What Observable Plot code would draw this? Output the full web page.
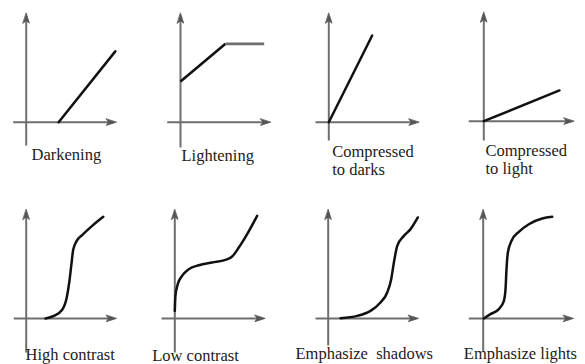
<!DOCTYPE html>
<html>
<head>
<meta charset="utf-8">
<script src="https://cdn.jsdelivr.net/npm/d3@7"></script>
<script src="https://cdn.jsdelivr.net/npm/@observablehq/plot@0.6"></script>
<style>
  html, body { margin: 0; padding: 0; background: #fff; }
  #chart { position: relative; width: 585px; height: 364px; overflow: hidden; background: #fff; }
  #chart svg { position: absolute; }
</style>
</head>
<body>
<div id="chart"></div>
<script>
// Panel titles (curve names)
const labels = [
  "Darkening", "Lightening", "Compressed\nto darks", "Compressed\nto light",
  "High contrast", "Low contrast", "Emphasize  shadows", "Emphasize lights"
];

// Tone curves: [input, output], 0 = origin, 1 = arrow tip of each axis
const darkening = [[0.36, 0], [0.99, 0.65]];
const lightening = [[0, 0.373], [0.5, 0.719], [0.93, 0.719]];
const compressedDarks = [[0, 0], [0.482, 0.795]];
const compressedLight = [[0, 0], [0.841, 0.282]];
const highContrast = [[0.214, 0], [0.307, 0.024], [0.4, 0.08], [0.45, 0.19], [0.478, 0.33], [0.5, 0.48],
  [0.522, 0.63], [0.56, 0.71], [0.622, 0.765], [0.733, 0.85], [0.856, 0.933]];
const lowContrast = [[0, 0.07], [0.007, 0.208], [0.033, 0.315], [0.081, 0.391], [0.156, 0.453], [0.267, 0.489],
  [0.415, 0.514], [0.563, 0.538], [0.637, 0.569], [0.711, 0.651], [0.804, 0.774], [0.915, 0.942]];
const emphShadows = [[0.137, 0.003], [0.322, 0.024], [0.47, 0.07], [0.581, 0.147], [0.656, 0.239], [0.7, 0.361],
  [0.73, 0.514], [0.767, 0.667], [0.841, 0.758], [0.915, 0.82], [0.996, 0.927]];
const emphLights = [[0.007, 0], [0.081, 0.04], [0.174, 0.086], [0.23, 0.162], [0.248, 0.269], [0.259, 0.453],
  [0.274, 0.606], [0.315, 0.713], [0.396, 0.795], [0.507, 0.865], [0.656, 0.917], [0.767, 0.933]];

const curves = [darkening, lightening, compressedDarks, compressedLight,
  highContrast, lowContrast, emphShadows, emphLights];
const smooth = [false, false, false, false, true, true, true, true];

// ---- layout (pixels) ----
const panelLeft = [0, 145, 290, 435];
const panelTop = [0, 182];
const panelW = [145, 145, 145, 150];
const panelH = 182;
const unitX = 90, unitY = 109;
// absolute origin of each panel's axes
const originX = [25.7, 180, 328.3, 483.3, 25.7, 174.3, 327.7, 482.7];
const originY = [121.7, 121.7, 121.7, 120.7, 318, 318, 318, 318];
// how far the axes extend past the origin (px)
const axisLeft = [13, 13.3, 13.3, 15, 12.4, 13.3, 12.7, 14.4];
const axisBelow = [23.3, 25.3, 18.3, 19.3, 34, 34, 27, 32.3];
// label position: absolute start x and first baseline
const labelX = [31, 181, 331.7, 485, 25, 151.7, 295, 463.3];
const labelBase = [158.5, 159.5, 155.7, 154, 358.5, 359.5, 357.5, 357.5];

const fontSize = 16.5;
const axisColor = "#6e6e6e";
const curveColor = "#111111";
const textColor = "#241a1a";

// filled dart arrowhead, tip at the vector's end
const dart = {
  draw(context, l) {
    const w = l * 0.32;
    context.moveTo(0, -l);
    context.lineTo(w, 0);
    context.lineTo(0, -l * 0.25);
    context.lineTo(-w, 0);
    context.closePath();
  }
};

const root = document.getElementById("chart");

function axisMarks(i, useVector) {
  const left = -axisLeft[i] / unitX, below = -axisBelow[i] / unitY;
  if (!useVector) {
    return [
      Plot.arrow([0], {x1: () => left, y1: () => 0, x2: () => 1, y2: () => 0,
        stroke: axisColor, strokeWidth: 2, headLength: 9, headAngle: 40}),
      Plot.arrow([0], {x1: () => 0, y1: () => below, x2: () => 0, y2: () => 1,
        stroke: axisColor, strokeWidth: 2, headLength: 9, headAngle: 40})
    ];
  }
  return [
    Plot.link([0], {x1: () => left, y1: () => 0, x2: () => 0.97, y2: () => 0,
      stroke: axisColor, strokeWidth: 2}),
    Plot.link([0], {x1: () => 0, y1: () => below, x2: () => 0, y2: () => 0.97,
      stroke: axisColor, strokeWidth: 2}),
    Plot.vector([0], {x: () => 1, y: () => 0, length: 10, rotate: 90, anchor: "end",
      shape: dart, fill: "#555", stroke: "#555", strokeWidth: 0.8}),
    Plot.vector([0], {x: () => 0, y: () => 1, length: 10, rotate: 0, anchor: "end",
      shape: dart, fill: "#555", stroke: "#555", strokeWidth: 0.8})
  ];
}

labels.forEach((label, i) => {
  const col = i % 4, row = Math.floor(i / 4);
  const left = panelLeft[col], top = panelTop[row];
  const ox = originX[i] - left, oy = originY[i] - top;
  const curve = curves[i];

  const dataMarks = [];
  if (i === 1) {
    const segs = d3.pairs(curve);
    dataMarks.push(Plot.link(segs, {
      x1: d => d[0][0], y1: d => d[0][1], x2: d => d[1][0], y2: d => d[1][1],
      stroke: d => (d[0][1] === d[1][1] ? axisColor : curveColor),
      strokeWidth: 2.6, strokeLinecap: "butt"
    }));
  } else {
    dataMarks.push(Plot.line(curve, {
      x: d => d[0], y: d => d[1],
      stroke: curveColor, strokeWidth: 2.5,
      curve: smooth[i] ? "monotone-x" : "linear"
    }));
  }

  dataMarks.push(Plot.text([label], {
    text: d => d,
    frameAnchor: "top-left",
    dx: labelX[i] - left,
    dy: labelBase[i] - top - 0.71 * fontSize,
    textAnchor: "start",
    lineAnchor: "top",
    lineHeight: 18 / fontSize,
    fontFamily: "Liberation Serif",
    fontSize: fontSize,
    fill: textColor
  }));

  const make = (useVector) => Plot.plot({
    width: panelW[col],
    height: panelH,
    margin: 0,
    x: { type: "linear", domain: [0, 1], range: [ox, ox + unitX], axis: null },
    y: { type: "linear", domain: [0, 1], range: [oy, oy - unitY], axis: null },
    style: { background: "transparent", overflow: "visible" },
    marks: [...axisMarks(i, useVector), ...dataMarks]
  });
  let svg;
  try { svg = make(true); } catch (e) { svg = make(false); }
  svg.style.left = left + "px";
  svg.style.top = top + "px";
  root.appendChild(svg);
});
</script>
</body>
</html>
